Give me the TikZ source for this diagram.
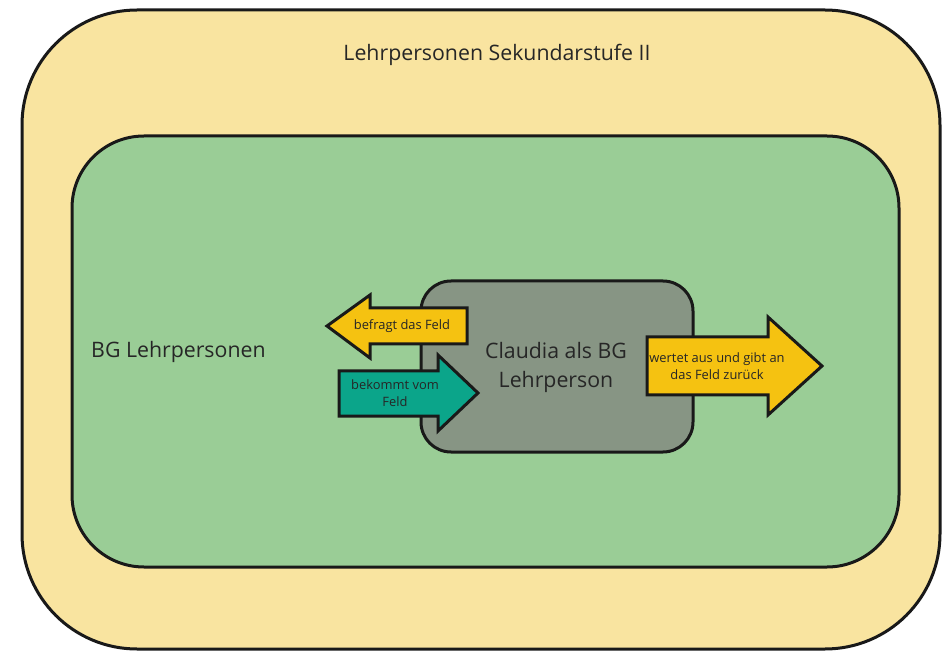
\documentclass[tikz,border=0pt]{standalone}
\usepackage{fontspec}
\setmainfont{Open Sans}
\begin{document}
\begin{tikzpicture}[x=1pt,y=-1pt,
  box/.style={draw=black!90, line width=3pt},
  arrowshape/.style={draw=black!90, line width=3pt, line join=miter},
  txt/.style={text=black!85, inner sep=0pt, align=center},
  big/.style={txt, font=\fontsize{21.3}{29}\selectfont},
  small/.style={txt, font=\fontsize{12.9}{17}\selectfont}]
\definecolor{outerfill}{HTML}{F9E4A0}
\definecolor{greenfill}{HTML}{9ACD96}
\definecolor{grayfill}{HTML}{879584}
\definecolor{yellowarrow}{HTML}{F5C211}
\definecolor{tealarrow}{HTML}{0BA58A}
\useasboundingbox (0,0) rectangle (951,652);
\fill[white] (0,0) rectangle (951,652);
% containers
\draw[box, fill=outerfill, rounded corners=115pt] (22,10) rectangle (940,649);
\draw[box, fill=greenfill, rounded corners=72pt] (72,136) rectangle (899,567);
\draw[box, fill=grayfill, rounded corners=30pt] (421,281) rectangle (693,452);
% labels
\node[big] (outerlabel) at (497,55) {Lehrpersonen Sekundarstufe II};
\node[big, anchor=west] (bglabel) at (91,352) {BG Lehrpersonen};
\node[big] (claudia) at (556,367) {Claudia als BG\\Lehrperson};
% arrows
\draw[arrowshape, fill=yellowarrow] (467,308) -- (370,308) -- (370,295) -- (327,326) -- (370,358) -- (370,344) -- (467,344) -- cycle;
\node[small] (befragt) at (402,326) {befragt das Feld};
\draw[arrowshape, fill=tealarrow] (339,371) -- (438,371) -- (438,355) -- (478,393) -- (438,431) -- (438,416) -- (339,416) -- cycle;
\node[small] (bekommt) at (395,393) {bekommt vom\\Feld};
\draw[arrowshape, fill=yellowarrow] (647,337) -- (768,337) -- (768,317) -- (822,366) -- (768,415) -- (768,395) -- (647,395) -- cycle;
\node[small] (wertet) at (717,366) {wertet aus und gibt an\\das Feld zurück};
\end{tikzpicture}
\end{document}
